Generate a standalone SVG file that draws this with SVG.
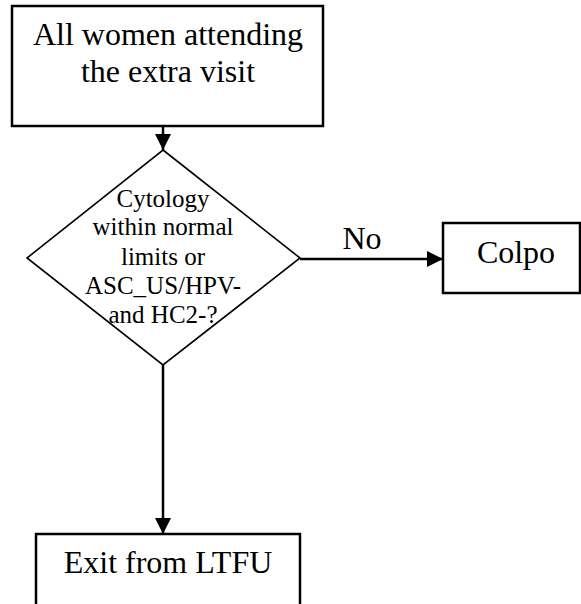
<svg xmlns="http://www.w3.org/2000/svg" width="581" height="604" viewBox="0 0 581 604">
  <style>
    .box { fill: #fff; stroke: #000; stroke-width: 2.5; }
    .dia { fill: #fff; stroke: #000; stroke-width: 1.6; }
    .lbl { font-family: "Liberation Serif", "Times New Roman", serif; fill: #000; text-anchor: middle; }
    .big { font-size: 32px; }
    .small { font-size: 25px; }
    .edge { fill: none; stroke: #000; stroke-width: 2.5; }
  </style>
  <defs>
    <marker id="arrow" markerUnits="userSpaceOnUse" markerWidth="16" markerHeight="16" viewBox="0 0 16 16" refX="16" refY="8" orient="auto">
      <path d="M0,0 L16,8 L0,16 Z" fill="#000"/>
    </marker>
  </defs>

  <rect width="581" height="604" fill="#fff"/>

  <g id="connectors">
    <line class="edge" x1="163" y1="126" x2="163" y2="150" marker-end="url(#arrow)"/>
    <line class="edge" x1="300" y1="259" x2="443" y2="259" marker-end="url(#arrow)"/>
    <line class="edge" x1="163" y1="365" x2="163" y2="534" marker-end="url(#arrow)"/>
    <text class="lbl big" x="362" y="249">No</text>
  </g>

  <g id="start">
    <rect class="box" x="12" y="6" width="311" height="120"/>
    <text class="lbl big" x="168" y="45">All women attending</text>
    <text class="lbl big" x="168" y="82">the extra visit</text>
  </g>

  <g id="decision">
    <polygon class="dia" points="163,150 300,258 163,365 27,258"/>
    <text class="lbl small" x="163" y="207">Cytology</text>
    <text class="lbl small" x="163" y="235">within normal</text>
    <text class="lbl small" x="163" y="265">limits or</text>
    <text class="lbl small" x="163" y="294">ASC_US/HPV-</text>
    <text class="lbl small" x="163" y="323">and HC2-?</text>
  </g>

  <g id="colpo">
    <rect class="box" x="443" y="223" width="137" height="70"/>
    <text class="lbl big" x="516" y="263">Colpo</text>
  </g>

  <g id="exit">
    <rect class="box" x="36" y="534" width="264" height="80"/>
    <text class="lbl big" x="168" y="573">Exit from LTFU</text>
  </g>
</svg>
